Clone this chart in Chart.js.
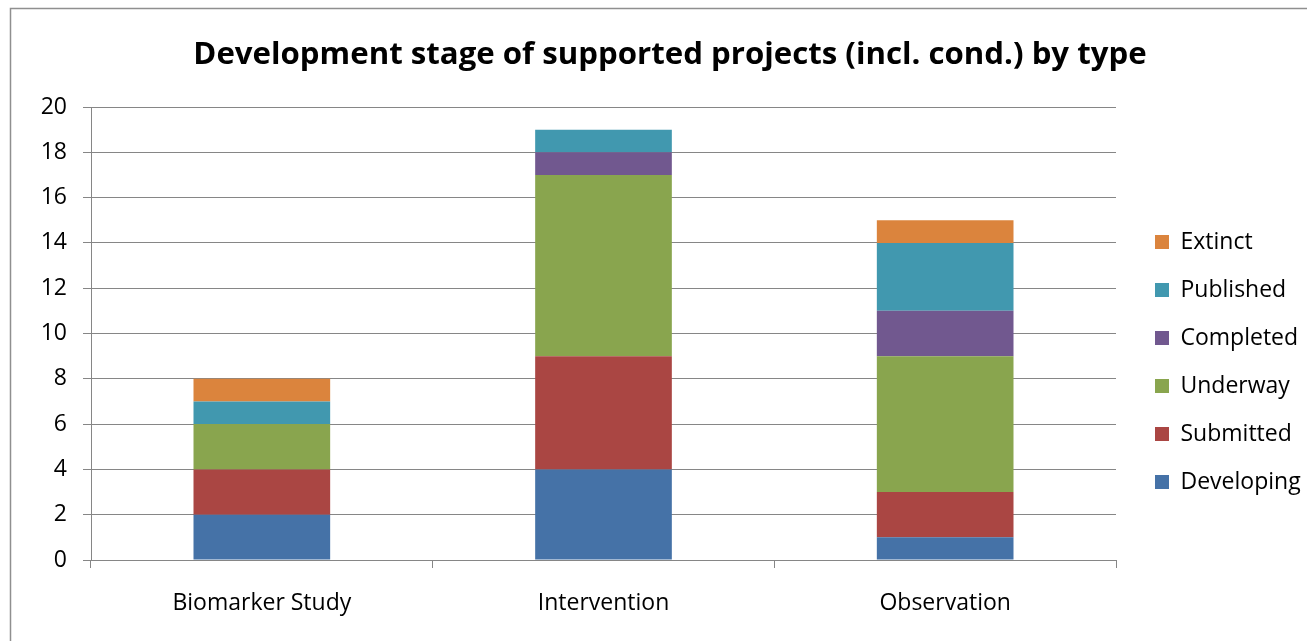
<!DOCTYPE html>
<html>
<head>
<meta charset="utf-8">
<script src="https://cdn.jsdelivr.net/npm/chart.js@4"></script>
<style>
html,body{margin:0;padding:0;background:#fff;overflow:hidden;}
#wrap{position:absolute;left:0;top:0;width:1340px;height:650px;}
</style>
</head>
<body>
<div id="wrap"><canvas id="c"></canvas></div>
<script>
const categories = ["Biomarker Study", "Intervention", "Observation"];
const developing = [2, 4, 1];
const submitted  = [2, 5, 2];
const underway   = [2, 8, 6];
const completed  = [0, 1, 2];
const published  = [1, 1, 3];
const extinct    = [1, 0, 1];
const yTicks = [0, 2, 4, 6, 8, 10, 12, 14, 16, 18, 20];

const FONT = "'Open Sans', 'Noto Sans', sans-serif";
const GRID = '#868686';

const borderPlugin = {
  id: 'borderPlugin',
  beforeDraw(chart) {
    const ctx = chart.ctx;
    ctx.save();
    ctx.fillStyle = '#fff';
    ctx.fillRect(0, 0, chart.width, chart.height);
    ctx.strokeStyle = '#8f8f8f';
    ctx.lineWidth = 1.5;
    ctx.strokeRect(10.5, 8.5, 1318, 700);
    ctx.restore();
  }
};

const legendFix = {
  id: 'legendFix',
  beforeLayout(chart) {
    const lg = chart.legend;
    if (lg && !lg._patched) {
      const orig = lg.fit;
      lg.fit = function () { orig.call(this); this.width = 224; };
      lg._patched = true;
    }
  },
  afterLayout(chart) {
    const lg = chart.legend;
    if (lg) { lg.left += 14; lg.right += 14; lg.top += 37; lg.bottom += 37; }
  }
};

const mk = (label, data, color) => ({ label, data, backgroundColor: color, borderWidth: 0 });

new Chart(document.getElementById('c'), {
  type: 'bar',
  data: {
    labels: categories,
    datasets: [
      mk('Developing', developing, '#4572A7'),
      mk('Submitted', submitted, '#AA4643'),
      mk('Underway', underway, '#89A54E'),
      mk('Completed', completed, '#71588F'),
      mk('Published', published, '#4198AF'),
      mk('Extinct', extinct, '#DB843D')
    ]
  },
  options: {
    responsive: true,
    maintainAspectRatio: false,
    animation: false,
    layout: { padding: { left: 0, right: 0, top: 0, bottom: 0 } },
    datasets: { bar: { barPercentage: 0.4, categoryPercentage: 1.0 } },
    plugins: {
      title: {
        display: true,
        text: 'Development stage of supported projects (incl. cond.) by type',
        color: '#000',
        font: { family: FONT, size: 31.2, weight: 'bold', lineHeight: 1.2 },
        padding: { top: 36.5, bottom: 33.06 }
      },
      legend: {
        position: 'right',
        reverse: true,
        labels: {
          color: '#000',
          boxWidth: 14,
          boxHeight: 14,
          padding: 25,
          font: { family: FONT, size: 23 }
        }
      },
      tooltip: { enabled: false }
    },
    scales: {
      x: {
        stacked: true,
        grid: { display: true, drawOnChartArea: false, drawTicks: true, tickLength: 8, color: GRID, offset: true },
        border: { display: true, color: GRID, width: 1 },
        ticks: { color: '#000', font: { family: FONT, size: 23 }, padding: 22, maxRotation: 0 },
        afterFit(s) { s.height = 90; }
      },
      y: {
        stacked: true,
        min: 0,
        max: 20,
        afterBuildTicks(s) { s.ticks = yTicks.map(v => ({ value: v })); },
        grid: { color: GRID, tickLength: 8, drawTicks: true },
        border: { display: true, color: GRID, width: 1 },
        ticks: { color: '#000', font: { family: FONT, size: 23 }, padding: 16 },
        afterFit(s) { s.width = 91; }
      }
    }
  },
  plugins: [borderPlugin, legendFix]
});
</script>
</body>
</html>
